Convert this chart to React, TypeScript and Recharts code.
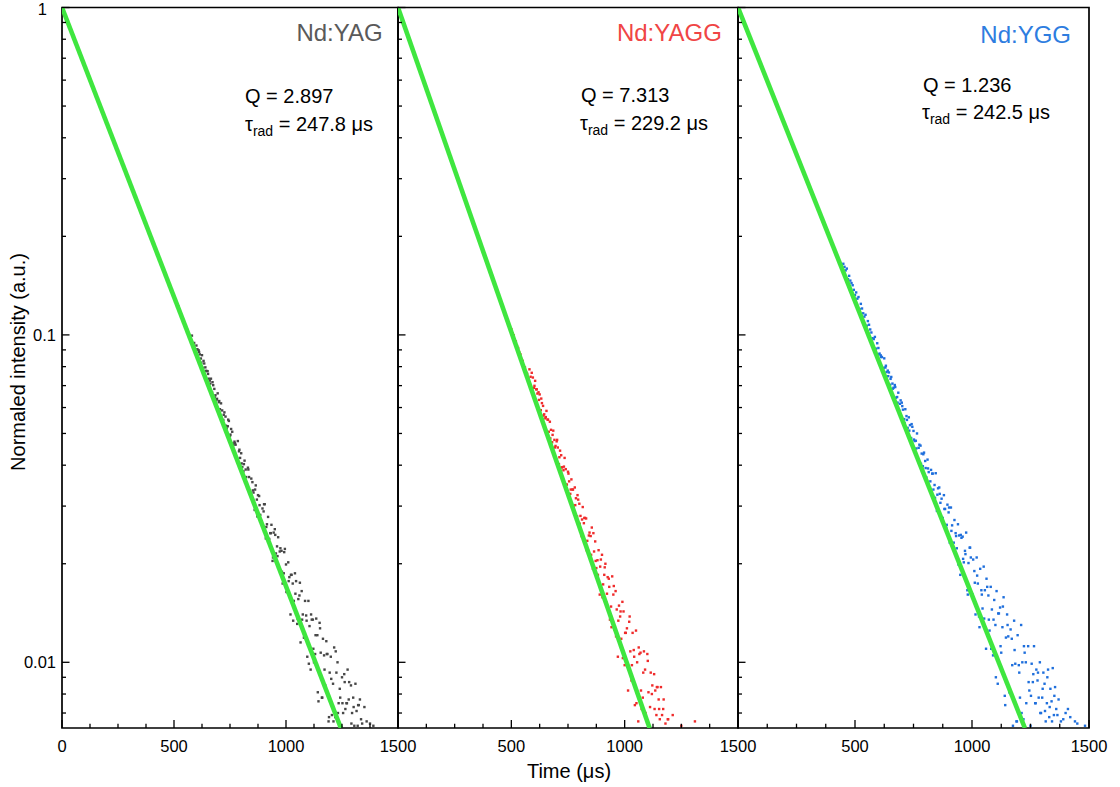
import React from 'react';
import { ScatterChart, Scatter, XAxis, YAxis, ReferenceArea } from 'recharts';

// ---------------- data ----------------
const yagPoints: [number, number][] = [
  [0, 1.0], [40, 0.851], [80, 0.724], [120, 0.616], [160, 0.523], [200, 0.445], [240, 0.378], [280, 0.322],
  [320, 0.273], [360, 0.232], [400, 0.198], [440, 0.168], [480, 0.143], [520, 0.122], [560, 0.1035],
  [580, 0.0995], [590, 0.0945],
  [600, 0.0928], [605, 0.0903], [610, 0.0897], [615, 0.0872], [620, 0.0847], [625, 0.0867], [630, 0.0793], [635, 0.0818],
  [640, 0.0796], [645, 0.0776], [650, 0.0775], [655, 0.0735], [660, 0.0725], [665, 0.0735], [670, 0.0667], [675, 0.0702],
  [680, 0.0684], [685, 0.0654], [690, 0.0633], [695, 0.0663], [700, 0.0623], [705, 0.0593], [710, 0.0618], [715, 0.0588],
  [720, 0.055], [725, 0.058], [730, 0.0563], [735, 0.0518], [740, 0.0526], [745, 0.0546], [750, 0.0491], [755, 0.0516],
  [760, 0.0506], [765, 0.0461], [770, 0.0472], [775, 0.0462], [780, 0.0419], [785, 0.0474], [790, 0.0441], [795, 0.0421],
  [800, 0.0435], [805, 0.0395], [810, 0.0383], [815, 0.0413], [820, 0.0388], [825, 0.0353], [830, 0.0393], [835, 0.0368],
  [840, 0.0329], [845, 0.0364], [850, 0.0355], [855, 0.033], [860, 0.0292], [865, 0.0347], [870, 0.0314], [875, 0.0324],
  [880, 0.0322], [885, 0.0282], [890, 0.0265], [895, 0.0295], [900, 0.0289], [905, 0.0304], [910, 0.0239], [915, 0.0264],
  [920, 0.0278], [925, 0.0238], [930, 0.0248], [935, 0.0263], [940, 0.0204], [945, 0.0249], [950, 0.0255], [955, 0.0215],
  [960, 0.0226], [965, 0.0241], [970, 0.0193], [975, 0.0223], [980, 0.0219], [985, 0.0174], [990, 0.0187], [995, 0.0222],
  [1000, 0.0199], [1005, 0.0164], [1010, 0.0202], [1015, 0.0182], [1020, 0.014], [1025, 0.0185], [1030, 0.0174], [1035, 0.0154],
  [1040, 0.0187], [1045, 0.0177], [1050, 0.0131], [1055, 0.0156], [1060, 0.016], [1065, 0.0115], [1070, 0.0165], [1075, 0.014],
  [1080, 0.0119], [1085, 0.0154], [1090, 0.0139], [1095, 0.0104], [1100, 0.0154], [1105, 0.0129], [1110, 0.0095], [1115, 0.0135],
  [1120, 0.0135], [1125, 0.01], [1130, 0.0106], [1135, 0.0136], [1140, 0.0121], [1145, 0.0076], [1150, 0.0132], [1155, 0.0107],
  [1160, 0.0078], [1165, 0.0118], [1170, 0.0105], [1175, 0.0085], [1180, 0.0116], [1185, 0.0106], [1190, 0.0066], [1195, 0.0093],
  [1200, 0.0104], [1205, 0.0069], [1210, 0.0086], [1215, 0.0111], [1220, 0.0068], [1225, 0.0093], [1230, 0.01], [1235, 0.0075],
  [1240, 0.0083], [1250, 0.009], [1255, 0.007], [1260, 0.0092], [1265, 0.0072], [1270, 0.0075], [1275, 0.0095], [1280, 0.0077],
  [1290, 0.0085], [1295, 0.007], [1300, 0.0078], [1305, 0.0064], [1310, 0.0086], [1315, 0.0071], [1320, 0.0064], [1325, 0.0074],
  [1330, 0.0077], [1335, 0.0067], [1340, 0.0065], [1350, 0.0073], [1360, 0.0066], [1375, 0.0065], [1390, 0.0064],
  [602, 0.0903], [612, 0.0887], [622, 0.0822], [632, 0.0833], [642, 0.0776], [652, 0.076], [662, 0.071], [672, 0.0717],
  [682, 0.0644], [692, 0.0638], [702, 0.0628], [712, 0.0558], [722, 0.057], [732, 0.0528], [742, 0.0551], [752, 0.0496],
  [762, 0.0466], [772, 0.0467], [782, 0.0419], [792, 0.0446], [802, 0.0405], [812, 0.0403], [822, 0.0368], [832, 0.0388],
  [842, 0.0329], [852, 0.0335], [862, 0.0337], [872, 0.0279], [882, 0.0302], [892, 0.027], [902, 0.0304], [912, 0.0259],
  [922, 0.0238], [932, 0.0248], [942, 0.0209], [952, 0.0245], [962, 0.0211], [972, 0.0218], [982, 0.0189], [992, 0.0217],
  [1002, 0.0164], [1012, 0.0177], [1022, 0.0185], [1032, 0.0134], [1042, 0.0162], [1052, 0.0136], [1062, 0.0175], [1072, 0.0135],
  [1082, 0.0119], [1092, 0.0134], [1102, 0.0099], [1112, 0.014], [1122, 0.011], [1132, 0.0121], [1142, 0.0081], [1152, 0.0127],
  [1162, 0.0078], [1172, 0.0095], [1182, 0.0106], [1192, 0.0068], [1202, 0.0089], [1212, 0.0066], [1222, 0.0108], [1232, 0.007],
  [1242, 0.0078], [1252, 0.0075], [1262, 0.0087], [1272, 0.0075], [1282, 0.0087], [1292, 0.0065], [1302, 0.0073], [1322, 0.0074],
];

const yaggPoints: [number, number][] = [
  [0, 1.0], [40, 0.834], [80, 0.695], [120, 0.579], [160, 0.483], [200, 0.402], [240, 0.335], [280, 0.279],
  [320, 0.233], [360, 0.194], [400, 0.162], [440, 0.135], [480, 0.1125],
  [500, 0.1041], [505, 0.1012], [510, 0.0998], [515, 0.0968], [520, 0.0955], [525, 0.0925], [530, 0.0912], [535, 0.0884],
  [540, 0.0872], [545, 0.0844], [550, 0.0833], [555, 0.0806], [560, 0.0796], [565, 0.077], [570, 0.0761], [575, 0.0736],
  [580, 0.0785], [585, 0.0745], [590, 0.0766], [595, 0.0741], [600, 0.0689], [605, 0.0724], [610, 0.0682], [615, 0.0662],
  [620, 0.0668], [625, 0.0658], [630, 0.0589], [635, 0.0619], [640, 0.0607], [645, 0.0572], [650, 0.0556], [655, 0.0586],
  [660, 0.0551], [665, 0.0506], [670, 0.0543], [675, 0.0513], [680, 0.047], [685, 0.051], [690, 0.0478], [695, 0.0458],
  [700, 0.0473], [705, 0.0453], [710, 0.0403], [715, 0.0443], [720, 0.0429], [725, 0.0394], [730, 0.0386], [735, 0.0421],
  [740, 0.0389], [745, 0.0349], [750, 0.0382], [755, 0.0357], [760, 0.0327], [765, 0.0362], [770, 0.0337], [775, 0.0297],
  [780, 0.0342], [785, 0.0317], [790, 0.0279], [795, 0.0314], [800, 0.0305], [805, 0.028], [810, 0.0243], [815, 0.0298],
  [820, 0.0266], [825, 0.0276], [830, 0.0275], [835, 0.0235], [840, 0.0219], [845, 0.0249], [850, 0.0243], [855, 0.0258],
  [860, 0.0193], [865, 0.0218], [870, 0.0234], [875, 0.0194], [880, 0.0205], [885, 0.022], [890, 0.0161], [895, 0.0206],
  [900, 0.0213], [905, 0.0173], [910, 0.0185], [915, 0.02], [920, 0.0152], [925, 0.0182], [930, 0.018], [935, 0.0135],
  [940, 0.0148], [945, 0.0183], [950, 0.0161], [955, 0.0126], [960, 0.0165], [965, 0.0145], [970, 0.0104], [975, 0.0149],
  [980, 0.0138], [985, 0.0118], [990, 0.0153], [995, 0.0143], [1000, 0.0098], [1005, 0.0123], [1010, 0.0127], [1015, 0.0082],
  [1020, 0.0133], [1025, 0.0108], [1030, 0.0088], [1035, 0.0123], [1040, 0.0109], [1045, 0.0074], [1050, 0.0125], [1055, 0.01],
  [1060, 0.0066], [1065, 0.0106], [1070, 0.0107], [1075, 0.0072], [1080, 0.0078], [1085, 0.0108], [1090, 0.0095], [1100, 0.0106],
  [1105, 0.0081], [1115, 0.0093], [1120, 0.008], [1130, 0.0092], [1135, 0.0082], [1140, 0.0069], [1145, 0.0084], [1150, 0.0077],
  [1155, 0.0067], [1160, 0.0084], [1165, 0.0069], [1170, 0.0072], [1180, 0.0065], [1190, 0.0067], [1250, 0.0064], [1310, 0.0066],
  [602, 0.0699], [612, 0.0682], [622, 0.0633], [632, 0.0639], [642, 0.0567], [652, 0.0561], [662, 0.0551], [672, 0.0483],
  [682, 0.0495], [692, 0.0453], [702, 0.0478], [712, 0.0423], [722, 0.0394], [732, 0.0396], [742, 0.0349], [752, 0.0377],
  [762, 0.0337], [772, 0.0337], [782, 0.0302], [792, 0.0324], [802, 0.0265], [812, 0.0273], [822, 0.0276], [832, 0.022],
  [842, 0.0244], [852, 0.0213], [862, 0.0248], [872, 0.0204], [882, 0.0185], [892, 0.0196], [902, 0.0158], [912, 0.0195],
  [922, 0.0162], [932, 0.017], [942, 0.0128], [952, 0.0171], [962, 0.012], [972, 0.0134], [982, 0.0143], [992, 0.0103],
  [1002, 0.0123], [1012, 0.0097], [1022, 0.0138], [1032, 0.0098], [1042, 0.0104], [1052, 0.0075], [1062, 0.0111], [1072, 0.0082],
  [1082, 0.0093], [1092, 0.007], [1102, 0.0101], [1112, 0.0073], [1122, 0.0085], [1132, 0.0072], [1142, 0.0084], [1152, 0.0072],
  [1172, 0.0077], [1192, 0.0067], [1212, 0.0069],
];

const yggPoints: [number, number][] = [
  [0, 1.0], [40, 0.848], [80, 0.719], [120, 0.609], [160, 0.517], [200, 0.438], [240, 0.371], [280, 0.315],
  [320, 0.267], [360, 0.226], [400, 0.192], [440, 0.164],
  [450, 0.1649], [455, 0.1614], [460, 0.1574], [465, 0.1594], [470, 0.148], [475, 0.1515], [480, 0.1465], [485, 0.144],
  [490, 0.1418], [495, 0.1373], [500, 0.1323], [505, 0.1348], [510, 0.129], [515, 0.1305], [520, 0.1199], [525, 0.1244],
  [530, 0.1204], [535, 0.1164], [540, 0.1137], [545, 0.1152], [550, 0.1067], [555, 0.1102], [560, 0.1074], [565, 0.1039],
  [570, 0.1017], [575, 0.0977], [580, 0.0971], [585, 0.0986], [590, 0.0908], [595, 0.0943], [600, 0.0912], [605, 0.0877],
  [610, 0.0866], [615, 0.0856], [620, 0.0788], [625, 0.0848], [630, 0.0795], [635, 0.077], [640, 0.0778], [645, 0.0768],
  [650, 0.0704], [655, 0.0744], [660, 0.071], [665, 0.069], [670, 0.0703], [675, 0.0643], [680, 0.0646], [685, 0.0666],
  [690, 0.0586], [695, 0.0631], [700, 0.0621], [705, 0.0591], [710, 0.0553], [715, 0.0593], [720, 0.0565], [725, 0.052],
  [730, 0.056], [735, 0.053], [740, 0.0484], [745, 0.0524], [750, 0.0509], [755, 0.0474], [760, 0.0475], [765, 0.05],
  [770, 0.0412], [775, 0.0462], [780, 0.0459], [785, 0.0434], [790, 0.0397], [795, 0.0437], [800, 0.0412], [805, 0.0367],
  [810, 0.0416], [815, 0.0381], [820, 0.0342], [825, 0.0387], [830, 0.0377], [835, 0.0337], [840, 0.0348], [845, 0.0378],
  [850, 0.029], [855, 0.034], [860, 0.0342], [865, 0.0307], [870, 0.0316], [875, 0.0276], [880, 0.0324], [885, 0.0294],
  [890, 0.0258], [895, 0.0303], [900, 0.0287], [905, 0.0232], [910, 0.0297], [915, 0.0262], [920, 0.0222], [925, 0.0272],
  [930, 0.0248], [935, 0.0223], [940, 0.0264], [945, 0.0244], [950, 0.0185], [955, 0.024], [960, 0.0242], [965, 0.0202],
  [970, 0.0219], [975, 0.0249], [980, 0.0166], [985, 0.0201], [990, 0.0224], [995, 0.0209], [1000, 0.0161], [1005, 0.0206],
  [1010, 0.019], [1015, 0.014], [1020, 0.0209], [1025, 0.0174], [1030, 0.0138], [1035, 0.0193], [1040, 0.0166], [1045, 0.0146],
  [1050, 0.0196], [1055, 0.0166], [1060, 0.011], [1065, 0.017], [1070, 0.016], [1075, 0.0125], [1080, 0.017], [1085, 0.0145],
  [1090, 0.0105], [1095, 0.0155], [1100, 0.013], [1105, 0.0165], [1110, 0.0086], [1115, 0.0141], [1120, 0.0147], [1125, 0.0107],
  [1130, 0.0128], [1135, 0.0158], [1140, 0.0079], [1145, 0.0119], [1150, 0.014], [1155, 0.012], [1160, 0.0081], [1165, 0.0126],
  [1170, 0.0118], [1175, 0.0064], [1180, 0.0134], [1185, 0.0099], [1190, 0.0066], [1195, 0.0121], [1200, 0.0098], [1205, 0.0078],
  [1210, 0.013], [1215, 0.01], [1220, 0.0067], [1225, 0.0107], [1230, 0.01], [1240, 0.0112], [1245, 0.0082], [1250, 0.0064],
  [1255, 0.0099], [1260, 0.0087], [1265, 0.0112], [1270, 0.0075], [1275, 0.0095], [1280, 0.0088], [1285, 0.0078], [1290, 0.01],
  [1295, 0.007], [1300, 0.0078], [1305, 0.0093], [1310, 0.0086], [1315, 0.0066], [1320, 0.0075], [1325, 0.0095], [1330, 0.0068],
  [1335, 0.0083], [1340, 0.0076], [1345, 0.0096], [1350, 0.0069], [1355, 0.0084], [1360, 0.0072], [1370, 0.0077], [1380, 0.0066],
  [1400, 0.007], [1420, 0.0068], [1450, 0.0065], [1483, 0.0064],
  [602, 0.0872], [612, 0.0856], [622, 0.0793], [632, 0.0805], [642, 0.0748], [652, 0.0734], [662, 0.0685], [672, 0.0693],
  [682, 0.0621], [692, 0.0616], [702, 0.0606], [712, 0.0538], [722, 0.055], [732, 0.051], [742, 0.0534], [752, 0.0479],
  [762, 0.045], [772, 0.0452], [782, 0.0404], [792, 0.0432], [802, 0.0392], [812, 0.0391], [822, 0.0357], [832, 0.0377],
  [842, 0.0318], [852, 0.0325], [862, 0.0327], [872, 0.0271], [882, 0.0294], [892, 0.0263], [902, 0.0297], [912, 0.0252],
  [922, 0.0232], [932, 0.0243], [942, 0.0199], [952, 0.0245], [962, 0.0207], [972, 0.0214], [982, 0.0161], [992, 0.0224],
  [1002, 0.0161], [1012, 0.0175], [1022, 0.0184], [1032, 0.0128], [1042, 0.0161], [1052, 0.0136], [1062, 0.018], [1072, 0.0135],
  [1082, 0.011], [1092, 0.0135], [1102, 0.009], [1112, 0.0141], [1122, 0.0112], [1132, 0.0148], [1142, 0.0074], [1152, 0.013],
  [1162, 0.0081], [1172, 0.0098], [1182, 0.0109], [1192, 0.0066], [1202, 0.0093], [1212, 0.007], [1222, 0.0112], [1232, 0.0075],
  [1242, 0.0087], [1252, 0.0079], [1262, 0.0092], [1272, 0.0075], [1282, 0.0093], [1292, 0.007], [1302, 0.0083], [1312, 0.0071],
  [1322, 0.009], [1332, 0.0073], [1342, 0.0066], [1352, 0.0079], [1365, 0.0069], [1390, 0.0067], [1410, 0.0072], [1440, 0.0066],
];

// fitted single-exponential lines (start and end points)
const yagFit: [number, number][] = [[0, 1], [1245, 0.0063]];
const yaggFit: [number, number][] = [[0, 1], [1110, 0.0063]];
const yggFit: [number, number][] = [[0, 1], [1226, 0.0063]];

const sampleNames = ['Nd:YAG', 'Nd:YAGG', 'Nd:YGG'];
const qValues = ['2.897', '7.313', '1.236'];
const tauValues = ['247.8', '229.2', '242.5'];

const xTicks = [0, 125, 250, 375, 500, 625, 750, 875, 1000, 1125, 1250, 1375, 1500];
const xMajorTicks = [0, 500, 1000, 1500];
const yTicks = [
  0.007, 0.008, 0.009, 0.01, 0.02, 0.03, 0.04, 0.05, 0.06, 0.07, 0.08, 0.09,
  0.1, 0.2, 0.3, 0.4, 0.5, 0.6, 0.7, 0.8, 0.9, 1,
];
const yMajorTicks = [0.01, 0.1, 1];
const yLabels: Record<string, string> = { '0.01': '0.01', '0.1': '0.1', '1': '1' };

// ---------------- layout / style ----------------
const W = 1120;
const H = 787;
const PLOT_TOP = 7.5;
const PLOT_BOTTOM = 728;
const FONT = '"Liberation Sans", Arial, Helvetica, sans-serif';
const FIT_COLOR = '#3fe63f';

const panels = [
  { left: 62, right: 398, points: yagPoints, fit: yagFit, dot: '#474747', title: '#5a5a5a', showY: true, showZero: true,
    titleY: 40.7, titleX: 382.7, qX: 245, qY: 103, tX: 245, tY: 130.5 },
  { left: 398, right: 738, points: yaggPoints, fit: yaggFit, dot: '#ef2b2b', title: '#f04545', showY: false, showZero: false,
    titleY: 40.5, titleX: 721.8, qX: 581, qY: 101.5, tX: 580, tY: 129.5 },
  { left: 738, right: 1089, points: yggPoints, fit: yggFit, dot: '#1f6fdc', title: '#2e7de0', showY: false, showZero: false,
    titleY: 42.5, titleX: 1071, qX: 923, qY: 91.5, tX: 922, tY: 119 },
];

const makeXTick = (showZero: boolean) => (props: any) => {
  const { x, payload } = props;
  const y = PLOT_BOTTOM;
  const v = payload.value;
  const major = xMajorTicks.includes(v);
  const len = major ? 8 : 4.3;
  return (
    <g>
      <line x1={x} x2={x} y1={y} y2={y - len} stroke="#000" strokeWidth={1.3} />
      {major && (showZero || v !== 0) ? (
        <text x={x} y={y + 24} textAnchor="middle" fontFamily={FONT} fontSize={16.5} fill="#000">
          {v}
        </text>
      ) : null}
    </g>
  );
};

const makeYTick = (left: number, showLabels: boolean) => (props: any) => {
  const { y, payload } = props;
  const x = left;
  const v = payload.value;
  const major = yMajorTicks.includes(v);
  const len = major ? 7.5 : 4;
  const label = yLabels[String(v)];
  return (
    <g>
      <line x1={x} x2={x + len} y1={y} y2={y} stroke="#000" strokeWidth={1.3} />
      {showLabels && major && label ? (
        <text
          x={v === 1 ? x - 15 : x - 6}
          y={v === 1 ? y + 1.5 : y}
          dy="0.36em"
          textAnchor="end"
          fontFamily={FONT}
          fontSize={16.5}
          fill="#000"
        >
          {label}
        </text>
      ) : null}
    </g>
  );
};

const Empty = () => <g />;

function Panel({ p }: { p: (typeof panels)[number] }) {
  const data = p.points.map(([t, v]) => ({ t, v }));
  const fitData = p.fit.map(([t, v]) => ({ t, v }));
  const Dot = (props: any) => (
    <rect x={props.cx - 1.2} y={props.cy - 1.2} width={2.4} height={2.4} fill={p.dot} />
  );
  return (
    <div style={{ position: 'absolute', left: 0, top: 0, width: W, height: H }}>
      <ScatterChart
        width={W}
        height={H}
        margin={{ top: PLOT_TOP, bottom: H - PLOT_BOTTOM - 10, left: p.left - 10, right: W - p.right }}
      >
        <XAxis
          type="number"
          dataKey="t"
          domain={[0, 1500]}
          ticks={xTicks}
          interval={0}
          tickSize={0}
          tickMargin={0}
          height={10}
          axisLine={false}
          tickLine={false}
          tick={makeXTick(p.showZero)}
          allowDataOverflow
        />
        <YAxis
          type="number"
          dataKey="v"
          scale="log"
          domain={[0.0063, 1]}
          ticks={yTicks}
          interval={0}
          tickSize={0}
          tickMargin={0}
          width={10}
          axisLine={false}
          tickLine={false}
          tick={makeYTick(p.left, p.showY)}
          allowDataOverflow
        />
        <ReferenceArea
          x1={0}
          x2={1500}
          y1={0.0063}
          y2={1}
          fill="none"
          fillOpacity={0}
          stroke="#000"
          strokeWidth={1.7}
          ifOverflow="visible"
        />
        <Scatter data={data} shape={Dot} fill={p.dot} isAnimationActive={false} />
        <Scatter
          data={fitData}
          line={{ stroke: FIT_COLOR, strokeWidth: 4.6 }}
          shape={Empty}
          isAnimationActive={false}
        />
      </ScatterChart>
    </div>
  );
}

export default function App() {
  return (
    <div style={{ position: 'absolute', left: 0, top: 0, width: W, height: H, background: '#fff', overflow: 'hidden' }}>
      {panels.map((p, i) => (
        <Panel key={i} p={p} />
      ))}
      <svg
        width={W}
        height={H}
        style={{ position: 'absolute', left: 0, top: 0, pointerEvents: 'none' }}
        fontFamily={FONT}
      >
        {panels.map((p, i) => (
          <g key={i}>
            <text x={p.titleX} y={p.titleY} textAnchor="end" fontSize={24} fill={p.title}>
              {sampleNames[i]}
            </text>
            <text x={p.qX} y={p.qY} fontSize={20} fill="#000">
              {`Q = ${qValues[i]}`}
            </text>
            <text x={p.tX} y={p.tY} fontSize={20} fill="#000">
              <tspan>τ</tspan>
              <tspan fontSize={14} dy={5}>rad</tspan>
              <tspan dy={-5}>{` = ${tauValues[i]} μs`}</tspan>
            </text>
          </g>
        ))}
        <text x={569} y={778} textAnchor="middle" fontSize={20} fill="#000">
          Time (μs)
        </text>
        <text transform="translate(25, 362) rotate(-90)" textAnchor="middle" fontSize={20} fill="#000">
          Normaled intensity (a.u.)
        </text>
      </svg>
    </div>
  );
}
